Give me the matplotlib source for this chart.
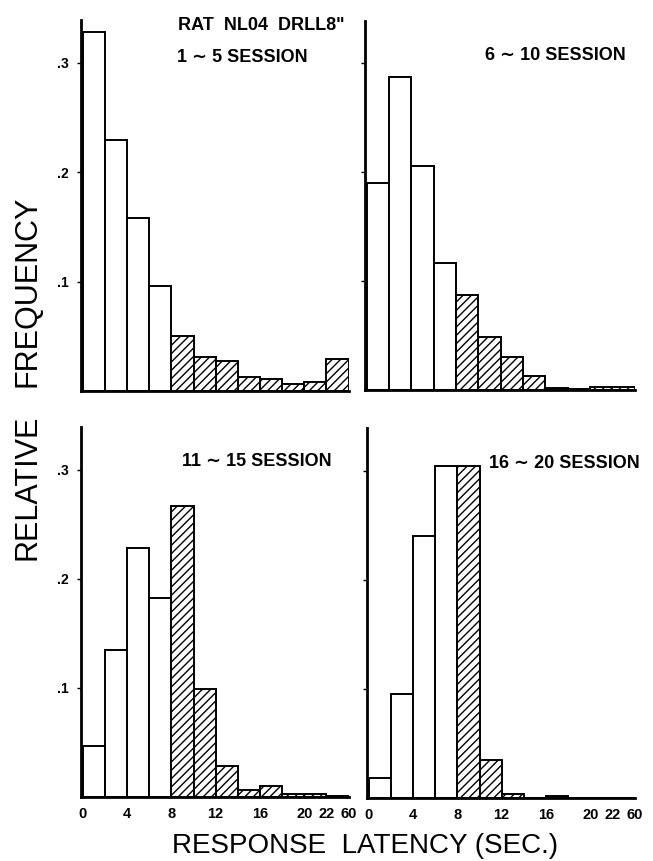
import matplotlib
matplotlib.use("Agg")
import matplotlib.pyplot as plt
import numpy as np

plt.rcParams['font.family'] = ['Liberation Sans', 'DejaVu Sans']
plt.rcParams['hatch.linewidth'] = 1.0

bin_edges_labels = ["0", "4", "8", "12", "16", "20", "22", "60"]
tick_edge_index = [0, 2, 4, 6, 8, 10, 11, 12]

sessions_1_5 = [0.328, 0.229, 0.158, 0.096, 0.050, 0.031, 0.027, 0.013, 0.011, 0.006, 0.008, 0.029]
sessions_6_10 = [0.190, 0.288, 0.206, 0.117, 0.087, 0.049, 0.030, 0.013, 0.002, 0.001, 0.003, 0.003]
sessions_11_15 = [0.047, 0.135, 0.228, 0.182, 0.267, 0.099, 0.028, 0.006, 0.010, 0.003, 0.003, 0.001]
sessions_16_20 = [0.018, 0.095, 0.240, 0.304, 0.304, 0.035, 0.004, 0.000, 0.002, 0.000, 0.000, 0.000]

titles = ["1 \u223c 5 SESSION", "6 \u223c 10 SESSION", "11 \u223c 15 SESSION", "16 \u223c 20 SESSION"]
data = [sessions_1_5, sessions_6_10, sessions_11_15, sessions_16_20]
hatched_from = 4  # bins >= 8 sec

fig = plt.figure(figsize=(6.53, 8.61), dpi=100)
W, H = 653, 861
boxes = [
    (81, 20, 349, 391),
    (365, 21, 635, 390),
    (81, 427, 349, 797),
    (367, 428, 635, 798),
]
title_pos = [(177, 57), (485, 55), (182, 462), (489, 463)]

for i, (vals, (x0, y0, x1, y1)) in enumerate(zip(data, boxes)):
    ax = fig.add_axes([x0 / W, 1 - y1 / H, (x1 - x0) / W, (y1 - y0) / H])
    n = len(vals)
    for j, v in enumerate(vals):
        hatch = '////' if j >= hatched_from else None
        ax.bar(j + 0.5, v, width=1.0, color='white', edgecolor='black',
               linewidth=1.4, hatch=hatch, zorder=2)
    ax.set_xlim(-0.08, n + 0.02)
    ax.set_ylim(0, 0.339)
    for s in ['top', 'right']:
        ax.spines[s].set_visible(False)
    ax.spines['left'].set_linewidth(2.0)
    ax.spines['bottom'].set_linewidth(2.0)
    ax.set_yticks([0.1, 0.2, 0.3])
    ax.tick_params(axis='y', length=3, width=1, direction='out', pad=6)
    if i % 2 == 0:
        ax.set_yticklabels(['.1', '.2', '.3'], fontsize=10, fontweight='bold')
    else:
        ax.set_yticklabels([])
    ax.set_xticks(tick_edge_index)
    ax.tick_params(axis='x', length=0, pad=7)
    if i >= 2:
        ax.set_xticklabels(bin_edges_labels, fontsize=10.5, fontweight='bold')
    else:
        ax.set_xticklabels([])
    tx, ty = title_pos[i]
    fig.text(tx / W, 1 - ty / H, titles[i], fontsize=13, fontweight='bold',
             ha='left', va='center')

fig.text(178 / W, 1 - 26 / H, 'RAT  NL04  DRLL8"', fontsize=13, fontweight='bold',
         ha='left', va='center')
fig.text(28 / W, 1 - 291 / H, 'FREQUENCY', fontsize=22, rotation=90,
         ha='center', va='center')
fig.text(28 / W, 1 - 487 / H, 'RELATIVE', fontsize=22, rotation=90,
         ha='center', va='center')
fig.text(365 / W, 1 - 846 / H, 'RESPONSE  LATENCY (SEC.)', fontsize=20,
         ha='center', va='center')

fig.savefig('out.png', dpi=100)
